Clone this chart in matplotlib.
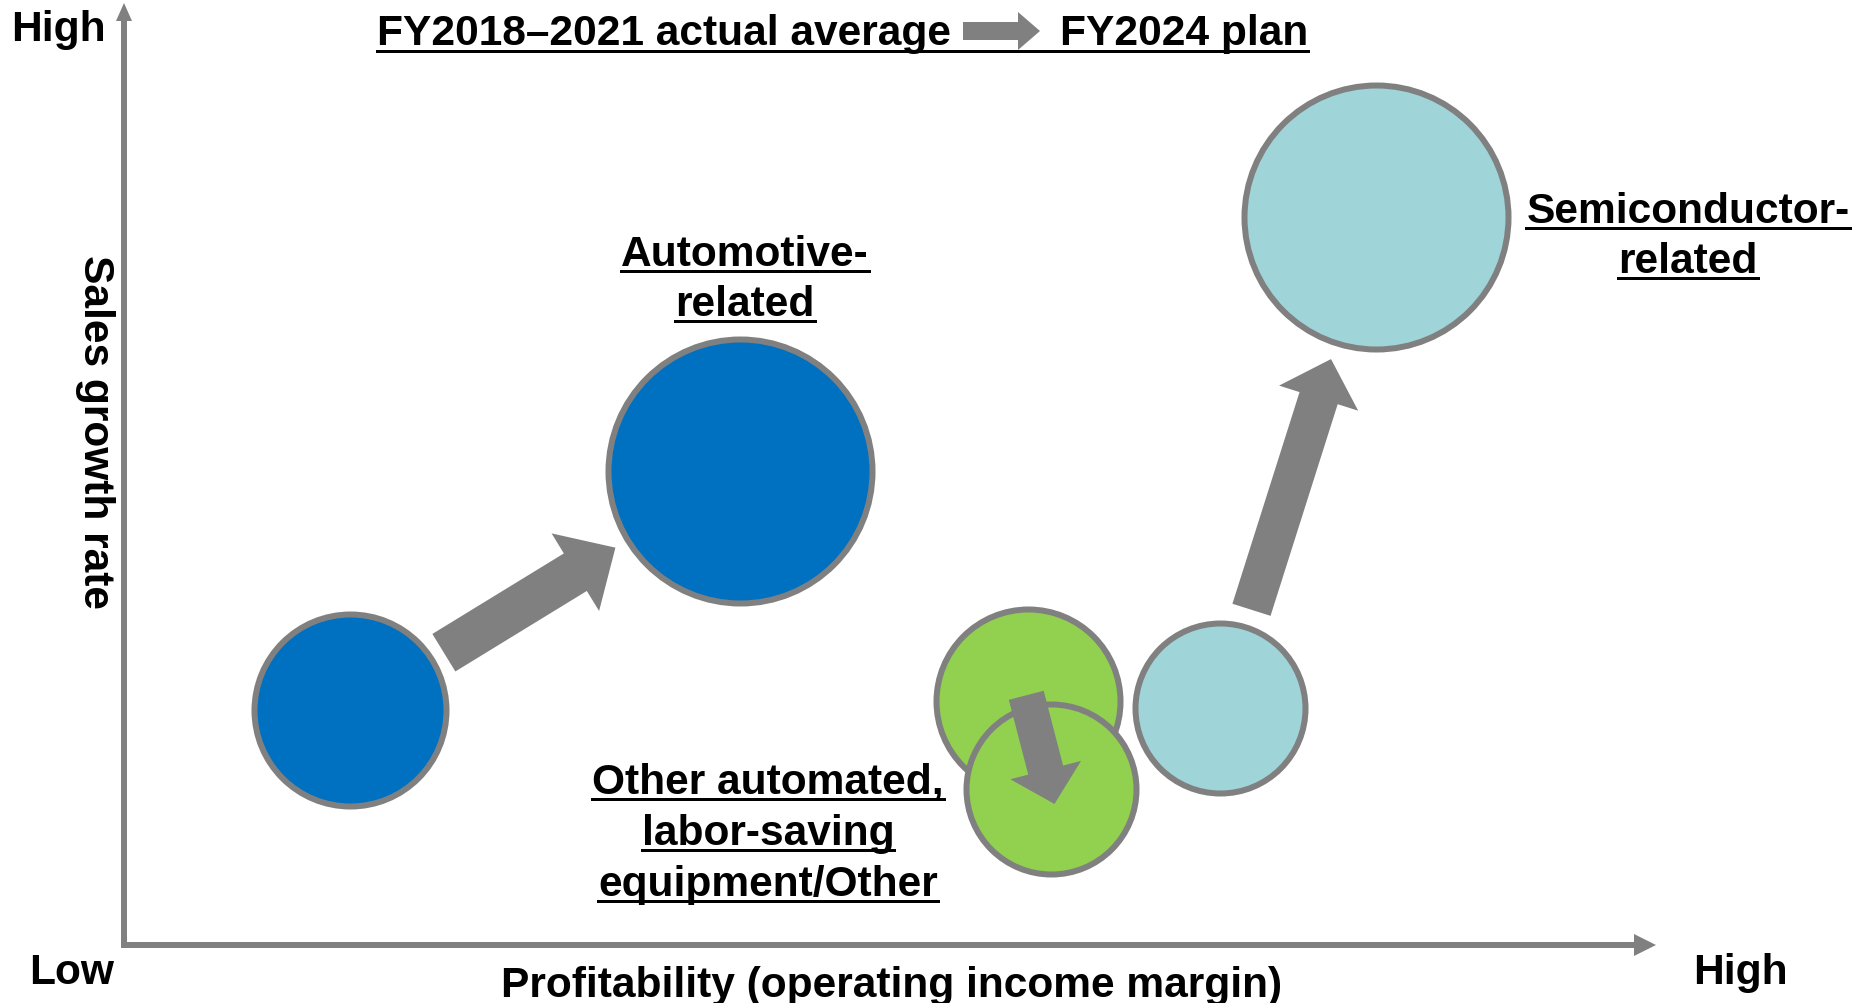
import matplotlib
matplotlib.use('Agg')
import matplotlib.pyplot as plt
from matplotlib.lines import Line2D

plt.rcParams['font.family'] = ['Liberation Sans', 'DejaVu Sans']

# bubble data (profitability index, growth index, bubble radius)
segments = ['Automotive-related', 'Other automated, labor-saving equipment/Other', 'Semiconductor-related']
profit_2021 = [14.8, 59.1, 71.7]
growth_2021 = [25.0, 26.0, 25.2]
radius_2021 = [99, 95, 88]
profit_2024 = [40.3, 60.6, 81.9]
growth_2024 = [50.4, 16.6, 77.5]
radius_2024 = [135, 88, 135]
colors = ['#0070C0', '#92D050', '#9FD4D9']

label_lines = [['Automotive-', 'related'],
               ['Other automated,', 'labor-saving', 'equipment/Other'],
               ['Semiconductor-', 'related']]

W, H = 1865, 1004
GRAY = '#808080'
fig = plt.figure(figsize=(W / 100, H / 100), dpi=100)
ax = fig.add_axes([0, 0, 1, 1])
# axis origin at pixel (124, 946); 15.29 px per x unit, 9.40 px per y unit
ax.set_xlim(-124 / 15.29, (W - 124) / 15.29)
ax.set_ylim(-(H - 946) / 9.40, 946 / 9.40)
ax.axis('off')


def fp(x, y):
    # pixel from top-left -> figure pixels
    return (x, H - y)


def arrow(start, end, coords, tail, head_w, head_l, zorder=5):
    pt = 0.72
    ax.annotate('', xy=end, xytext=start, xycoords=coords, textcoords=coords,
                arrowprops=dict(arrowstyle='simple,head_length=%f,head_width=%f,tail_width=%f'
                                % (head_l * pt, head_w * pt, tail * pt),
                                mutation_scale=1, fc=GRAY, ec='none', lw=0,
                                shrinkA=0, shrinkB=0),
                zorder=zorder, annotation_clip=False)


# axes
arrow(fp(124, 949), fp(124, 4), 'figure pixels', 6, 16, 18)
arrow(fp(121, 946), fp(1656, 946), 'figure pixels', 6, 22, 22)

# bubbles
edge_w = 6
for i in range(len(segments)):
    for px, gy, r in [(profit_2021[i], growth_2021[i], radius_2021[i]),
                      (profit_2024[i], growth_2024[i], radius_2024[i])]:
        d_pt = (2 * r - edge_w) * 0.72
        ax.scatter([px], [gy], s=d_pt ** 2, c=colors[i], edgecolors=GRAY,
                   linewidths=edge_w * 0.72, zorder=2 + i * 0.01)

# movement arrows (fraction along line between centers)
arrow_t = [(0.24, 0.68), (-0.06, 1.17), (0.20, 0.71)]
arrow_size = [(44, 91, 47), (36, 73, 35), (40, 83, 41)]
for i in range(len(segments)):
    x0, y0 = profit_2021[i], growth_2021[i]
    x1, y1 = profit_2024[i], growth_2024[i]
    t0, t1 = arrow_t[i]
    s = (x0 + t0 * (x1 - x0), y0 + t0 * (y1 - y0))
    e = (x0 + t1 * (x1 - x0), y0 + t1 * (y1 - y0))
    tw, hw, hl = arrow_size[i]
    arrow(s, e, 'data', tw, hw, hl)

FS = 30.6
texts_to_underline = []


def put(x, y, s, ha='center', rot=0, va='baseline', underline=False):
    t = fig.text(x / W, 1 - y / H, s, fontsize=FS, fontweight='bold', ha=ha, va=va,
                 rotation=rot, color='black')
    if underline:
        texts_to_underline.append((t, y))
    return t


put(58, 41, 'High')
put(72, 984, 'Low')
put(1740, 984, 'High')
put(892, 997, 'Profitability (operating income margin)')
put(95, 432, 'Sales growth rate', rot=-90, va='center')

# segment labels
label_pos = [(745, [266, 316]), (768, [794, 845, 896]), (1688, [223, 273])]
for lines, (cx, ys) in zip(label_lines, label_pos):
    for ln, y in zip(lines, ys):
        put(cx, y, ln, underline=True)

# title
t1 = put(377, 45, 'FY2018\u20132021 actual average', ha='left')
t2 = put(1308, 45, 'FY2024 plan', ha='right')
arrow(fp(963, 32), fp(1040, 32), 'figure pixels', 18, 38, 22)

fig.canvas.draw()
rend = fig.canvas.get_renderer()
for t, y in texts_to_underline:
    bb = t.get_window_extent(rend)
    yy = (H - y - 6) / H
    fig.add_artist(Line2D([bb.x0 / W, bb.x1 / W], [yy, yy], transform=fig.transFigure,
                          color='black', lw=3 * 0.72))
b1 = t1.get_window_extent(rend)
b2 = t2.get_window_extent(rend)
yy = (H - 45 - 7) / H
fig.add_artist(Line2D([b1.x0 / W, b2.x1 / W], [yy, yy], transform=fig.transFigure,
                      color='black', lw=3 * 0.72))

fig.savefig('out.png', dpi=100)
